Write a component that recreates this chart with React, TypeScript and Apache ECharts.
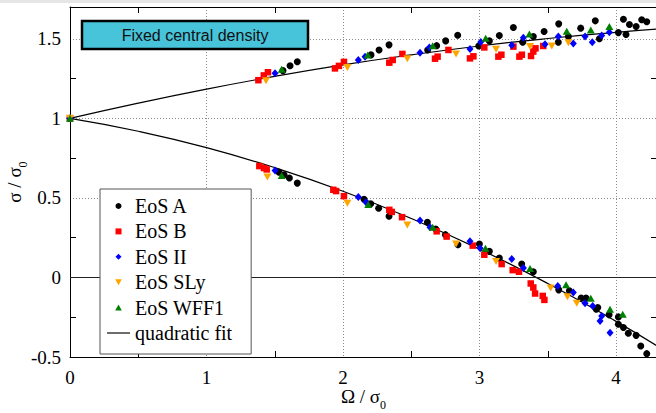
import React, { useEffect, useRef } from "react";
import * as echarts from "echarts";

// ---- tick values ----
const xTicks = [0, 1, 2, 3, 4];
const yTicks = [-0.5, 0, 0.5, 1, 1.5];
const xMinorTicks = [0.5, 1.5, 2.5, 3.5];
const yMinorTicks = [-0.25, 0.25, 0.75, 1.25];

// ---- data: [Omega/sigma0, sigma/sigma0] ----
const eosA_upper = [
  [0, 1], [1.56, 1.30], [1.612, 1.331], [1.665, 1.356], [2.205, 1.399], [2.264, 1.43], [2.337, 1.462],
  [2.62, 1.43], [2.686, 1.457], [2.752, 1.487], [2.84, 1.522], [2.994, 1.455], [3.072, 1.487],
  [3.145, 1.521], [3.248, 1.571], [3.316, 1.478], [3.394, 1.514], [3.473, 1.546], [3.58, 1.594],
  [3.577, 1.478], [3.651, 1.514], [3.741, 1.567], [3.848, 1.613], [3.878, 1.5], [4.017, 1.539],
  [4.073, 1.527], [4.054, 1.623], [4.098, 1.59], [4.147, 1.577], [4.188, 1.62], [4.225, 1.607],
];
const eosA_lower = [
  [1.531, 0.662], [1.568, 0.646], [1.607, 0.625], [1.665, 0.593], [2.154, 0.492], [2.203, 0.463],
  [2.261, 0.435], [2.337, 0.385], [2.618, 0.347], [2.679, 0.305], [2.75, 0.269], [2.842, 0.206],
  [2.999, 0.21], [3.072, 0.164], [3.145, 0.122], [3.309, 0.084], [3.394, 0.036], [3.58, -0.078],
  [3.658, -0.084], [3.744, -0.13], [3.78, -0.13], [3.866, -0.189], [3.855, -0.2], [3.949, -0.235],
  [4.017, -0.248], [4.017, -0.294], [4.054, -0.315], [4.09, -0.351], [4.147, -0.364], [4.181, -0.431],
  [4.225, -0.479],
];
const eosB_upper = [
  [0, 1], [1.38, 1.24], [1.42, 1.27], [1.45, 1.29], [1.941, 1.314], [1.97, 1.33], [2.007, 1.355],
  [2.339, 1.35], [2.364, 1.367], [2.435, 1.405], [2.674, 1.375], [2.693, 1.388], [2.772, 1.43],
  [2.93, 1.377], [2.955, 1.39], [3.035, 1.446], [3.138, 1.388], [3.16, 1.4], [3.248, 1.451],
  [3.292, 1.388], [3.31, 1.4], [3.377, 1.392], [3.394, 1.42], [3.41, 1.44], [3.467, 1.455],
];
const eosB_lower = [
  [1.387, 0.7], [1.421, 0.688], [1.441, 0.679], [1.929, 0.551], [1.949, 0.543], [2.007, 0.511],
  [2.339, 0.425], [2.357, 0.412], [2.432, 0.379], [2.686, 0.29], [2.759, 0.257], [2.95, 0.2],
  [3.035, 0.143], [3.162, 0.084], [3.243, 0.046], [3.289, 0.036], [3.375, -0.038], [3.394, -0.063],
  [3.407, -0.101], [3.463, -0.116], [3.475, -0.141],
];
const eosII_upper = [
  [0, 1], [1.502, 1.283], [2.112, 1.367], [2.161, 1.388], [2.564, 1.413], [2.632, 1.446], [2.93, 1.436],
  [3.009, 1.48], [3.236, 1.459], [3.321, 1.506], [3.48, 1.466], [3.577, 1.514], [3.687, 1.47],
  [3.773, 1.514], [3.826, 1.478], [3.895, 1.521], [3.951, 1.541],
];
const eosII_lower = [
  [1.502, 0.673], [2.112, 0.505], [2.168, 0.473], [2.564, 0.358], [2.637, 0.315], [2.93, 0.227],
  [3.004, 0.183], [3.236, 0.116], [3.321, 0.059], [3.573, -0.053], [3.687, -0.095], [3.773, -0.162],
  [3.829, -0.179], [3.895, -0.242], [3.883, -0.273], [3.956, -0.347],
];
const eosSLy_upper = [
  [0, 1], [1.436, 1.237], [2.032, 1.319], [2.471, 1.374], [2.828, 1.405], [3.121, 1.434],
  [3.37, 1.451], [3.529, 1.455], [3.651, 1.476],
];
const eosSLy_lower = [
  [1.446, 0.631], [2.032, 0.467], [2.471, 0.33], [2.828, 0.21], [3.121, 0.101], [3.521, -0.067],
  [3.644, -0.122], [3.712, -0.162],
];
const eosWFF1_upper = [
  [0, 1], [1.551, 1.308], [2.181, 1.399], [2.657, 1.457], [3.045, 1.503], [3.365, 1.531],
  [3.639, 1.548], [3.815, 1.556], [3.951, 1.577],
];
const eosWFF1_lower = [
  [1.551, 0.641], [2.185, 0.459], [2.657, 0.315], [3.043, 0.183], [3.37, 0.057], [3.634, -0.046],
  [3.815, -0.13], [3.956, -0.2], [4.049, -0.231],
];

// quadratic fit curves
const fitX = [0, 0.5, 1, 1.5, 2, 2.5, 3, 3.5, 4, 4.3];
const fitUpper = [1, 1.096, 1.184, 1.264, 1.336, 1.399, 1.455, 1.502, 1.541, 1.561];
const fitLower = [1, 0.919, 0.816, 0.69, 0.542, 0.371, 0.178, -0.038, -0.276, -0.43];

const legendNames = ["EoS A", "EoS B", "EoS II", "EoS SLy", "EoS WFF1", "quadratic fit"];

const SERIF = '"Liberation Serif", "Times New Roman", serif';
const FS = 19;

const SQUARE = "path://M0,0L10,0L10,10L0,10Z";
const DIAMOND = "path://M5,0L10,5L5,10L0,5Z";
const TRI_UP = "path://M5,0L10,9L0,9Z";
const TRI_DOWN = "path://M0,0L10,0L5,9Z";
const LINE_ICON = "path://M0,0L40,0L40,2L0,2Z";

function tickFormatter(list: number[]) {
  return (v: number) => {
    const hit = list.find((t) => Math.abs(t - v) < 1e-9);
    return hit === undefined ? "" : String(hit);
  };
}

export default function App() {
  const ref = useRef<HTMLDivElement>(null);
  useEffect(() => {
    if (!ref.current) return;
    const chart = echarts.init(ref.current, undefined, { renderer: "svg" });
    const dotted = { color: "#8a8a8a", type: [1, 2] as any, width: 1 };
    const helperX = (position: string, showLine: boolean) => ({
      type: "value",
      position,
      min: 0,
      max: 4.3,
      interval: 0.5,
      axisLine: { show: showLine, onZero: false, lineStyle: { color: "#000", width: 1 } },
      axisTick: { show: true, inside: true, length: 6, customValues: xMinorTicks, lineStyle: { color: "#000" } },
      axisLabel: { show: false },
      splitLine: { show: false },
    });
    const helperY = (position: string) => ({
      type: "value",
      position,
      min: -0.5,
      max: 1.7,
      interval: 0.25,
      axisLine: { show: position === "right", onZero: false, lineStyle: { color: "#000", width: 1 } },
      axisTick: { show: true, inside: true, length: 6, customValues: yMinorTicks, lineStyle: { color: "#000" } },
      axisLabel: { show: false },
      splitLine: { show: false },
    });
    const richName = {
      m: { fontFamily: SERIF, fontSize: FS, color: "#000", verticalAlign: "top" },
      s: { fontFamily: SERIF, fontSize: 12, color: "#000", verticalAlign: "top", padding: [12, 0, 0, 0] },
    };
    const option: any = {
      animation: false,
      grid: { left: 70, top: 7, right: -1, bottom: 56, containLabel: false, outerBoundsMode: "none" },
      xAxis: [
        {
          type: "value",
          position: "bottom",
          min: 0,
          max: 4.3,
          interval: 1,
          axisLine: { show: true, onZero: false, lineStyle: { color: "#000", width: 1 } },
          axisTick: { show: false },
          axisLabel: {
            formatter: tickFormatter(xTicks),
            margin: 11,
            color: "#000",
            fontFamily: SERIF,
            fontSize: FS,
          },
          splitLine: { show: true, lineStyle: dotted },
          name: "{m|Ω / σ}{s|0}",
          nameLocation: "middle",
          nameGap: 30,
          nameMoveOverlap: false,
          nameTextStyle: { rich: richName },
        },
        helperX("bottom", false),
        helperX("top", true),
      ],
      yAxis: [
        {
          type: "value",
          position: "left",
          min: -0.5,
          max: 1.7,
          interval: 0.5,
          axisLine: { show: true, onZero: false, lineStyle: { color: "#000", width: 1 } },
          axisTick: { show: false },
          axisLabel: {
            formatter: tickFormatter(yTicks),
            margin: 9,
            color: "#000",
            fontFamily: SERIF,
            fontSize: FS,
          },
          splitLine: { show: true, lineStyle: dotted },
          name: "{m|σ / σ}{s|0}",
          nameLocation: "middle",
          nameRotate: 90,
          nameGap: 41,
          nameMoveOverlap: false,
          nameTextStyle: { rich: richName },
        },
        helperY("left"),
        helperY("right"),
      ],
      legend: {
        data: legendNames.map((n) => (n === "quadratic fit" ? { name: n, icon: LINE_ICON } : { name: n })),
        orient: "vertical",
        left: 100,
        top: 189,
        itemWidth: 23,
        itemHeight: 6,
        itemGap: 5.4,
        itemTextGap: 12,
        padding: [7, 19, 11, 7],
        backgroundColor: "#fff",
        borderColor: "#555",
        borderWidth: 1,
        borderRadius: 0,
        selectedMode: false,
        symbolKeepAspect: true,
        textStyle: { fontFamily: SERIF, fontSize: 20, lineHeight: 18, color: "#000" },
        z: 10,
      },
      graphic: [
        { type: "rect", z: 100, shape: { x: 0, y: 0, width: 656, height: 3 }, style: { fill: "#e6e6e6" } },
        {
          type: "rect",
          z: 100,
          shape: { x: 82, y: 21, width: 226, height: 28 },
          style: { fill: "#47c3da", stroke: "#000", lineWidth: 2.5 },
        },
        {
          type: "text",
          z: 101,
          x: 195,
          y: 35.5,
          style: {
            text: "Fixed central density",
            align: "center",
            verticalAlign: "middle",
            font: '16px "Liberation Sans", Arial, sans-serif',
            fill: "#111",
          },
        },
      ],
      series: [
        {
          name: "quadratic fit",
          type: "line",
          smooth: true,
          symbol: "none",
          data: fitX.map((x, i) => [x, fitUpper[i]]),
          itemStyle: { color: "#000" },
          lineStyle: { color: "#000", width: 1.2 },
          z: 2,
          markLine: {
            silent: true,
            symbol: "none",
            label: { show: false },
            lineStyle: { color: "#222", type: "solid", width: 1.2 },
            data: [{ yAxis: 0 }],
          },
        },
        {
          name: "quadratic fit",
          type: "line",
          smooth: true,
          symbol: "none",
          data: fitX.map((x, i) => [x, fitLower[i]]),
          itemStyle: { color: "#000" },
          lineStyle: { color: "#000", width: 1.2 },
          z: 2,
        },
        {
          name: "EoS A",
          type: "scatter",
          symbol: "circle",
          symbolSize: 7,
          itemStyle: { color: "#000", opacity: 1 },
          data: [...eosA_upper, ...eosA_lower],
          z: 3,
        },
        {
          name: "EoS B",
          type: "scatter",
          symbol: SQUARE,
          symbolSize: 6.5,
          itemStyle: { color: "#ff0000", opacity: 1 },
          data: [...eosB_upper, ...eosB_lower],
          z: 3,
        },
        {
          name: "EoS II",
          type: "scatter",
          symbol: DIAMOND,
          symbolSize: [7, 8],
          itemStyle: { color: "#0000ff", opacity: 1 },
          data: [...eosII_upper, ...eosII_lower],
          z: 3,
        },
        {
          name: "EoS SLy",
          type: "scatter",
          symbol: TRI_DOWN,
          symbolSize: [8, 7],
          itemStyle: { color: "#ffa500", opacity: 1 },
          data: [...eosSLy_upper, ...eosSLy_lower],
          z: 3,
        },
        {
          name: "EoS WFF1",
          type: "scatter",
          symbol: TRI_UP,
          symbolSize: [8, 7],
          itemStyle: { color: "#008000", opacity: 1 },
          data: [...eosWFF1_upper, ...eosWFF1_lower],
          z: 3,
        },
      ],
    };
    chart.setOption(option);
    return () => chart.dispose();
  }, []);
  return (
    <div
      ref={ref}
      style={{ position: "fixed", left: 0, top: 0, width: 656, height: 413, background: "#fff" }}
    />
  );
}
